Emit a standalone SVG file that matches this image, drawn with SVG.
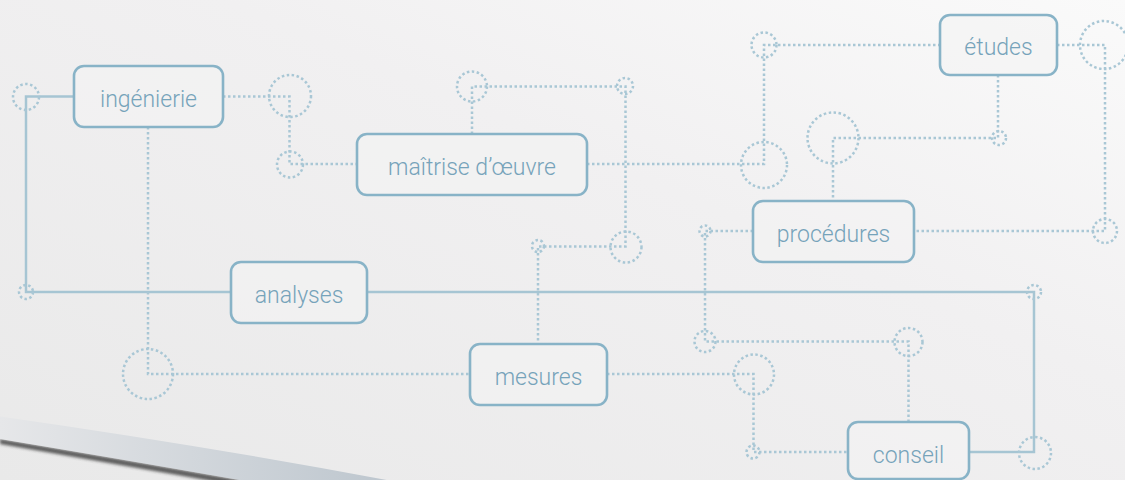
<svg xmlns="http://www.w3.org/2000/svg" width="1125" height="480" viewBox="0 0 1125 480">
<defs>
<linearGradient id="bg" x1="0" y1="1" x2="1" y2="0">
<stop offset="0" stop-color="#e9e9e9"/>
<stop offset="0.6" stop-color="#f1f0f1"/>
<stop offset="1" stop-color="#fafafa"/>
</linearGradient>
<linearGradient id="band" x1="0" y1="0" x2="1" y2="0">
<stop offset="0" stop-color="#e6e7e9"/>
<stop offset="1" stop-color="#bdc6ce"/>
</linearGradient>
<filter id="blur" x="-10%" y="-100%" width="120%" height="300%">
<feGaussianBlur stdDeviation="1.8"/>
</filter>
<style>
.s{fill:none;stroke:#a6c5d3;stroke-width:2.5}
.d{fill:none;stroke:#a9c7d5;stroke-width:2.5;stroke-dasharray:2.5 2.5}
.box{fill:#f3f3f4;fill-opacity:0.6;stroke:#88b3c7;stroke-width:2.6}
.t{font-family:Roboto,"Open Sans","Liberation Sans",sans-serif;font-weight:300;font-size:23px;fill:#76a3ba;text-anchor:middle}
</style>
</defs>
<rect width="1125" height="480" fill="url(#bg)"/>
<g id="swoosh">
<path d="M0,439 Q120,459 245,481 L240,486 Q120,465 0,444 Z" fill="#2e2e2e" opacity="0.75" filter="url(#blur)"/>
<path d="M0,416.5 Q200,445 392,481 L245,481 Q120,459 0,439 Z" fill="url(#band)"/>
</g>
<g id="connectors">
<path class="s" d="M74,96.5 H26 V292 H231"/>
<path class="s" d="M367,292 H1034 V452 H969"/>
<path class="d" d="M223,96.5 H289.5 V164 H357"/>
<path class="d" d="M148,127 V374 H470"/>
<path class="d" d="M472,134 V86.5 H625.5 V246.5 H538 V344"/>
<path class="d" d="M587,164 H764 V45 H940"/>
<path class="d" d="M1057,45 H1105 V231 H914"/>
<path class="d" d="M998,75 V138 H833 V201"/>
<path class="d" d="M753,231 H705 V341.5 H908.5 V422"/>
<path class="d" d="M607,374 H753.5 V452 H848"/>
<circle class="d" cx="26" cy="97" r="13"/>
<circle class="d" cx="26" cy="292" r="7"/>
<circle class="d" cx="1034" cy="292" r="7"/>
<circle class="d" cx="1035" cy="453" r="16"/>
<circle class="d" cx="290" cy="96" r="21"/>
<circle class="d" cx="290" cy="164.5" r="13"/>
<circle class="d" cx="148" cy="374" r="25"/>
<circle class="d" cx="472" cy="86.5" r="15"/>
<circle class="d" cx="625" cy="86" r="8"/>
<circle class="d" cx="626" cy="247" r="15.5"/>
<circle class="d" cx="538" cy="246" r="6"/>
<circle class="d" cx="764" cy="165" r="23"/>
<circle class="d" cx="764" cy="45" r="12.5"/>
<circle class="d" cx="1104" cy="45" r="24"/>
<circle class="d" cx="1105" cy="231" r="12"/>
<circle class="d" cx="999" cy="138" r="7"/>
<circle class="d" cx="833" cy="138" r="25.5"/>
<circle class="d" cx="705" cy="231" r="5.5"/>
<circle class="d" cx="705" cy="341.5" r="10.5"/>
<circle class="d" cx="908.5" cy="342" r="14"/>
<circle class="d" cx="754" cy="374.5" r="20"/>
<circle class="d" cx="753" cy="452" r="6.5"/>
</g>
<g id="node-ingenierie">
<rect class="box" x="74" y="66" width="149" height="61" rx="10"/>
<text class="t" x="148.5" y="106.5">ingénierie</text>
</g>
<g id="node-maitrise">
<rect class="box" x="357" y="134" width="230" height="61" rx="10"/>
<text class="t" x="472" y="174.5">maîtrise d’œuvre</text>
</g>
<g id="node-etudes">
<rect class="box" x="940" y="15" width="117" height="60" rx="10"/>
<text class="t" x="998.5" y="55">études</text>
</g>
<g id="node-procedures">
<rect class="box" x="753" y="201" width="161" height="61" rx="10"/>
<text class="t" x="833.5" y="241.5">procédures</text>
</g>
<g id="node-analyses">
<rect class="box" x="231" y="262" width="136" height="61" rx="10"/>
<text class="t" x="299" y="302.5">analyses</text>
</g>
<g id="node-mesures">
<rect class="box" x="470" y="344" width="137" height="61" rx="10"/>
<text class="t" x="538.5" y="385">mesures</text>
</g>
<g id="node-conseil">
<rect class="box" x="848" y="422" width="121" height="57" rx="10"/>
<text class="t" x="908.5" y="462.5">conseil</text>
</g>
</svg>
